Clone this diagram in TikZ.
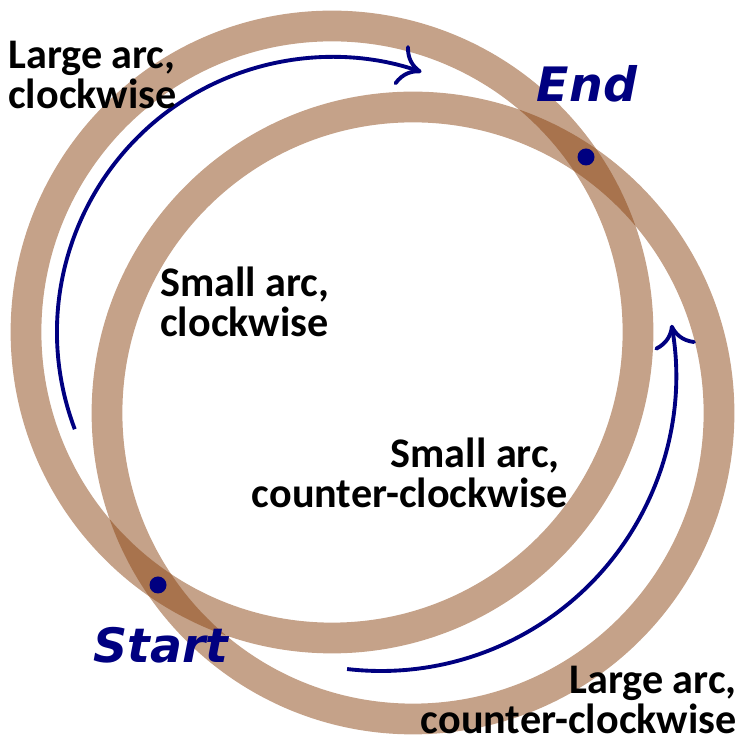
\documentclass[tikz,border=0pt]{standalone}
\usepackage{fontspec}
\setmainfont{Carlito}
\newfontfamily\handfont{DejaVu Sans}
\usepackage{tikz}
\usetikzlibrary{arrows.meta,calc}
\definecolor{ringbrown}{RGB}{139,69,19}
\definecolor{arcnavy}{RGB}{0,0,128}

\begin{document}
\begin{tikzpicture}[x=0.02cm, y=0.02cm,
    ring/.style={line width=17.5pt, draw=ringbrown, draw opacity=0.5},
    arcarrow/.style={line width=2.2pt, draw=arcnavy,
        -{Computer Modern Rightarrow[length=13pt,width=24pt]}},
    lbl/.style={inner sep=0pt, font=\fontsize{24}{22.5}\selectfont\bfseries},
    ptlbl/.style={inner sep=0pt, text=arcnavy,
        font=\handfont\fontsize{27}{27}\selectfont\bfseries\itshape}]

    \useasboundingbox (0,0) rectangle (741,742);

    % 两个圆环
    \coordinate (c1) at (332,410);
    \coordinate (c2) at (413,329);
    \draw[ring] (c1) circle (306);
    \draw[ring] (c2) circle (306);

    % 大弧箭头
    \draw[arcarrow] ($(c1)+(200.7:275)$) arc[start angle=200.7, end angle=71, radius=275];
    \draw[arcarrow] ($(381,366)+(-96.6:295)$) arc[start angle=-96.6, end angle=10, radius=295];

    % 起点和终点
    \coordinate (start) at (158,157);
    \coordinate (end) at (586,585);
    \fill[arcnavy] (start) circle (8.5);
    \fill[arcnavy] (end) circle (8.5);
    \node[ptlbl, anchor=north] (startlbl) at (161,115) {Start};
    \node[ptlbl, anchor=north] (endlbl) at (587,677) {End};

    % 标注
    \node[lbl, anchor=north west, align=left] (lgcw) at (8,701) {Large arc,\\clockwise};
    \node[lbl, anchor=north west, align=left] (smcw) at (160,475) {Small arc,\\clockwise};
    \node[lbl, anchor=north east, align=right] (smccw) at (568,304)
        {Small arc,\kern4.5pt\\counter-clockwise};
    \node[lbl, anchor=north east, align=right] (lgccw) at (737,76)
        {Large arc,\\counter-clockwise};
\end{tikzpicture}
\end{document}
